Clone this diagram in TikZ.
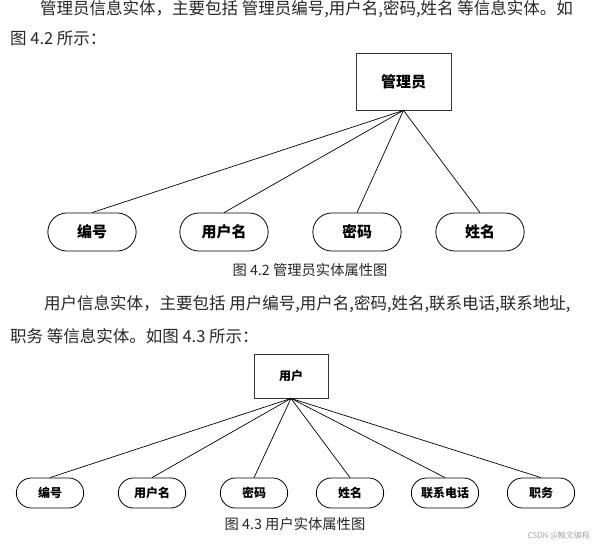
\documentclass[tikz,border=0pt]{standalone}
\usepackage{fontspec}
\setmainfont{Noto Sans CJK SC}
\usetikzlibrary{shapes.misc}

\begin{document}
\begin{tikzpicture}[x=1pt, y=-1pt,
    textline/.style={anchor=west, inner sep=0pt, text=black!85, font=\fontsize{16.5}{16.5}\selectfont},
    caption/.style={inner sep=0pt, text=black!85, font=\fontsize{14.3}{14.3}\selectfont},
    entity/.style={rectangle, draw=black!80, line width=0.8pt, minimum width=95pt, minimum height=57pt, font=\bfseries\fontsize{15}{15}\selectfont},
    attr/.style={rounded rectangle, draw, line width=0.8pt, minimum width=95pt, minimum height=38pt, font=\bfseries\fontsize{15}{15}\selectfont},
    smallentity/.style={entity, minimum width=74pt, minimum height=44pt, font=\bfseries\fontsize{12}{12}\selectfont},
    smallattr/.style={attr, minimum width=74pt, minimum height=30pt, font=\bfseries\fontsize{12}{12}\selectfont},
    link/.style={line width=0.7pt}
    ]
  \useasboundingbox (0,0) rectangle (595,547);
  \node[textline] (t1) at (40,9.5) {管理员信息实体，主要包括 管理员编号,用户名,密码,姓名 等信息实体。如};
  \node[textline] (t2) at (10,38) {图 4.2 所示：};
  \node[entity] (admin) at (403.5,81.5) {管理员};
  \node[attr] (a1) at (92,232) {编号};
  \node[attr] (a2) at (224,232) {用户名};
  \node[attr] (a3) at (357,232) {密码};
  \node[attr] (a4) at (480,232) {姓名};
  \foreach \a in {a1,a2,a3,a4}
    \draw[link] (admin.south) -- (\a.north);
  \node[caption] (cap1) at (310,270) {图 4.2 管理员实体属性图};
  \node[textline] (t3) at (44,304) {用户信息实体，主要包括 用户编号,用户名,密码,姓名,联系电话,联系地址,};
  \node[textline] (t4) at (10,336) {职务 等信息实体。如图 4.3 所示：};
  \node[smallentity] (user) at (291,376) {用户};
  \node[smallattr] (u1) at (50,493) {编号};
  \node[smallattr] (u2) at (152,493) {用户名};
  \node[smallattr] (u3) at (254,493) {密码};
  \node[smallattr] (u4) at (350,493) {姓名};
  \node[smallattr] (u5) at (445,493) {联系电话};
  \node[smallattr] (u6) at (541,493) {职务};
  \foreach \u in {u1,u2,u3,u4,u5,u6}
    \draw[link] (user.south) -- (\u.north);
  \node[caption] (cap2) at (295,524) {图 4.3 用户实体属性图};
  \node[anchor=east, inner sep=0pt, text=black!35, font=\fontsize{8}{8}\selectfont] (mark) at (590,536) {CSDN @翰文编程};
\end{tikzpicture}
\end{document}
